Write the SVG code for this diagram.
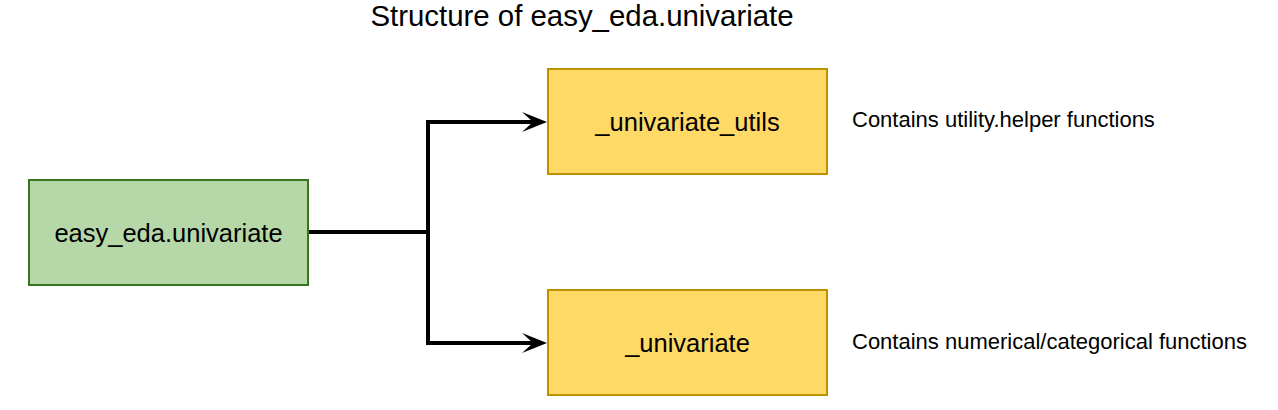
<svg xmlns="http://www.w3.org/2000/svg" width="1278" height="410" viewBox="0 0 1278 410">
<style>
text{font-family:"Liberation Sans",Arial,sans-serif;fill:#000}
.title{font-size:29.4px;text-anchor:middle}
.lbl{font-size:25.5px;text-anchor:middle}
.note{font-size:22px}
.green{fill:#B6D7A8;stroke:#38761D;stroke-width:2}
.yellow{fill:#FFD966;stroke:#BF9000;stroke-width:2}
.edge{fill:none;stroke:#000;stroke-width:4}
</style>
<defs>
<marker id="arr" markerUnits="userSpaceOnUse" markerWidth="30" markerHeight="24" refX="18" refY="10" orient="auto">
<path d="M0,0 L25,10 L0,20 L11,10 Z" fill="#000"/>
</marker>
</defs>
<rect width="1278" height="410" fill="#fff"/>
<text class="title" x="582" y="26">Structure of easy_eda.univariate</text>
<g id="connectors">
<path class="edge" d="M308,232 H428 V122 H540" marker-end="url(#arr)"/>
<path class="edge" d="M308,232 H428 V343 H540" marker-end="url(#arr)"/>
</g>
<g id="root">
<rect class="green" x="29" y="180" width="279" height="105"/>
<text class="lbl" x="168.5" y="241.5">easy_eda.univariate</text>
</g>
<g id="utils">
<rect class="yellow" x="548" y="69" width="279" height="105"/>
<text class="lbl" x="687.5" y="131">_univariate_utils</text>
</g>
<g id="univariate">
<rect class="yellow" x="548" y="290" width="279" height="105"/>
<text class="lbl" x="687.5" y="352">_univariate</text>
</g>
<g id="note-utils">
<text class="note" x="852" y="127">Contains utility.helper functions</text>
</g>
<g id="note-univariate">
<text class="note" x="852" y="349">Contains numerical/categorical functions</text>
</g>
</svg>
